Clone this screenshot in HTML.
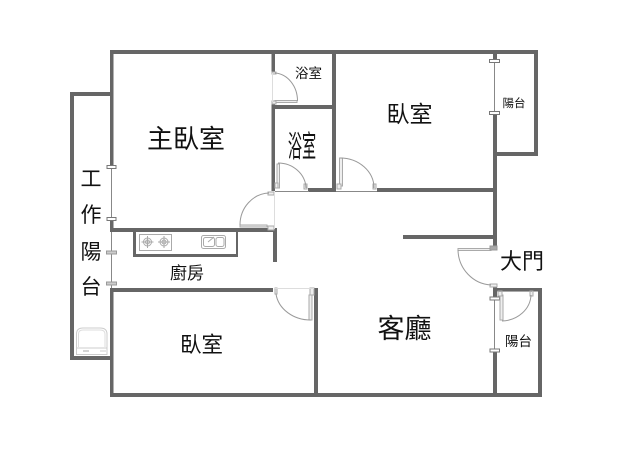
<!DOCTYPE html>
<html><head><meta charset="utf-8">
<style>
html,body{margin:0;padding:0;background:#fff}
svg{display:block}
text{font-family:"Liberation Sans","Noto Sans CJK TC",sans-serif;fill:#111;text-anchor:middle}
.arc{fill:none;stroke:#999;stroke-width:1}
.leaf{fill:#eee;stroke:#aaa;stroke-width:1}
.thin{stroke:#888;stroke-width:1;fill:none}
.jamb{fill:#fff;stroke:#777;stroke-width:1}
.app{fill:none;stroke:#aaa;stroke-width:1}
</style></head><body>
<svg width="638" height="460" viewBox="0 0 638 460" xmlns="http://www.w3.org/2000/svg">
<rect width="638" height="460" fill="#fff"/>
<g fill="#666">
<!-- outer top and main left -->
<rect x="110" y="50" width="428" height="4"/>
<rect x="110" y="50" width="3.5" height="115"/>
<rect x="110" y="218" width="3.5" height="14"/>
<!-- work balcony -->
<rect x="70" y="92" width="43" height="4"/>
<rect x="70" y="92" width="4" height="268"/>
<rect x="70" y="356" width="43" height="4"/>
<!-- kitchen -->
<rect x="110" y="228" width="167" height="4"/>
<rect x="273" y="228" width="4" height="34"/>
<rect x="133" y="232" width="3" height="25"/>
<rect x="133" y="254" width="105" height="3"/>
<rect x="236" y="232" width="2" height="25"/>
<rect x="110" y="288" width="163" height="4"/>
<!-- bedroom lower -->
<rect x="110" y="288" width="3.5" height="109"/>
<rect x="110" y="393" width="432" height="4"/>
<rect x="314" y="288" width="4" height="109"/>
<!-- bath partition -->
<rect x="271.500" y="50" width="3.500" height="22"/>
<rect x="271.500" y="103" width="3.500" height="88"/>
<rect x="271.500" y="105" width="64" height="4"/>
<rect x="332" y="50" width="4" height="142"/>
<rect x="308" y="188" width="28" height="4"/>
<rect x="377" y="188" width="120" height="4"/>
<!-- right walls -->
<rect x="493" y="50" width="4" height="10"/>
<rect x="493" y="113" width="4" height="137"/>
<rect x="493" y="286" width="4" height="12"/>
<rect x="493" y="350" width="4" height="47"/>
<rect x="403" y="235" width="92" height="4"/>
<rect x="534" y="50" width="4" height="106"/>
<rect x="495" y="152" width="43" height="4"/>
<rect x="497" y="288" width="45" height="3.500"/>
<rect x="538" y="288" width="4" height="109"/>
</g>

<!-- windows -->
<line class="thin" x1="111.500" y1="166" x2="111.500" y2="219"/>
<rect class="jamb" x="107" y="165.500" width="9" height="3"/>
<rect class="jamb" x="107" y="217.500" width="9" height="3"/>
<line class="thin" x1="111.500" y1="232" x2="111.500" y2="288"/>
<rect x="106.500" y="251" width="10" height="3" fill="#ccc" stroke="#999"/>
<rect x="106.500" y="282" width="10" height="3" fill="#ccc" stroke="#999"/>
<line class="thin" x1="494.500" y1="60" x2="494.500" y2="113"/>
<rect class="jamb" x="489.500" y="59.500" width="10" height="3"/>
<rect class="jamb" x="489.500" y="111.500" width="10" height="3"/>
<line class="thin" x1="494.500" y1="298" x2="494.500" y2="351"/>
<rect class="jamb" x="490" y="297" width="9.500" height="3"/>
<rect class="jamb" x="490" y="349" width="9.500" height="3"/>

<!-- door: small bath -->
<rect class="leaf" x="275" y="100.500" width="22" height="2"/>
<rect class="leaf" x="272" y="72" width="4" height="2"/>
<rect class="leaf" x="272" y="101" width="4" height="3"/>
<path class="arc" d="M275 73 A24 28 0 0 1 297.500 101"/>
<line x1="272.500" y1="73" x2="272.500" y2="102" stroke="#ddd"/>

<!-- door: inner bath -->
<rect class="leaf" x="277" y="164" width="2.500" height="24"/>
<rect class="leaf" x="275" y="183" width="3" height="5"/>
<rect class="leaf" x="304" y="184" width="3" height="5"/>
<path class="arc" d="M278 163 A28 26 0 0 1 306 188"/>
<line class="thin" x1="275" y1="191.500" x2="309" y2="191.500"/>

<!-- door: master bedroom -->
<rect class="leaf" x="240" y="225" width="27" height="2"/>
<rect class="leaf" x="268" y="226" width="6" height="4"/>
<rect class="leaf" x="268" y="192" width="6" height="3"/>
<path class="arc" d="M240 225 A30 32 0 0 1 269 193"/>
<line x1="274.500" y1="192" x2="274.500" y2="229" stroke="#ddd"/>

<!-- door: top-right bedroom -->
<rect class="leaf" x="339.500" y="158" width="3" height="28"/>
<rect class="leaf" x="337" y="184" width="4" height="5"/>
<rect class="leaf" x="373" y="184" width="3" height="5"/>
<path class="arc" d="M340 158 A34 30 0 0 1 374 188"/>
<line class="thin" x1="336" y1="191.500" x2="377" y2="191.500"/>

<!-- door: lower bedroom -->
<rect class="leaf" x="309" y="295" width="3" height="25"/>
<rect class="leaf" x="310" y="288" width="4" height="7"/>
<rect class="leaf" x="275" y="288" width="2" height="6"/>
<path class="arc" d="M276 294 A35 30 0 0 0 311 320"/>
<line x1="274" y1="288.500" x2="314" y2="288.500" stroke="#ddd"/>

<!-- entrance door -->
<rect class="leaf" x="458" y="248.500" width="33" height="2"/>
<rect x="490" y="246" width="7" height="4" fill="#aaa" stroke="#999"/>
<rect class="leaf" x="490" y="284" width="7" height="3"/>
<path class="arc" d="M458 250 A35 36 0 0 0 491 285"/>

<!-- balcony door -->
<rect class="leaf" x="500" y="295" width="3" height="25"/>
<rect class="leaf" x="498" y="291" width="4" height="5"/>
<rect class="leaf" x="530" y="291" width="3" height="5"/>
<line x1="498" y1="291.500" x2="532" y2="291.500" stroke="#aaa"/>
<path class="arc" d="M531 295 A30 27 0 0 1 502 321"/>

<!-- stove -->
<rect class="app" x="139.500" y="234.500" width="32" height="16"/>
<g class="app">
<circle class="app" cx="147.500" cy="242" r="4"/><circle class="app" cx="147.500" cy="242" r="2"/>
<circle class="app" cx="164" cy="242" r="4"/><circle class="app" cx="164" cy="242" r="2"/>
<path class="app" d="M147.500 236V248M141.500 242H153.500M164 236V248M158 242H170"/>
</g>
<!-- sink -->
<rect class="app" x="201.500" y="235.500" width="24" height="13" rx="2"/>
<rect class="app" x="203.500" y="237.500" width="11" height="9" rx="2"/>
<rect class="app" x="216" y="237.500" width="8" height="9" rx="2"/>
<path class="app" d="M208 242L214 237"/>

<!-- washer -->
<path d="M76.500 354.500V334Q76.500 328 83 328H100Q107 328 107 334V354.500Z" fill="none" stroke="#ccc"/>
<path d="M78.500 347V334Q78.500 330 83 330H100Q105 330 105 334V347" fill="none" stroke="#ddd"/>
<line x1="76" y1="348" x2="107" y2="348" stroke="#ccc"/>
<line x1="83" y1="351" x2="89" y2="351" stroke="#aaa"/>
<line x1="100" y1="351" x2="106" y2="351" stroke="#ccc"/>

<!-- labels -->
<text x="186" y="148" font-size="26">主臥室</text>
<text x="409.500" y="122" font-size="23">臥室</text>
<text x="308.500" y="78" font-size="13.500">浴室</text>
<text x="514" y="107" font-size="11.500">陽台</text>
<text transform="translate(302,157) scale(.47,1)" x="0" y="0" font-size="30">浴室</text>
<text x="91" y="186" font-size="21">工</text>
<text x="91" y="222" font-size="21">作</text>
<text x="91" y="259" font-size="21">陽</text>
<text x="91" y="294" font-size="21">台</text>
<text x="187" y="279" font-size="17">廚房</text>
<text x="201.500" y="352" font-size="21.500">臥室</text>
<text x="404.500" y="338" font-size="27">客廳</text>
<text x="522" y="269" font-size="22">大門</text>
<text x="518.500" y="346" font-size="13.500">陽台</text>
</svg>
</body></html>
